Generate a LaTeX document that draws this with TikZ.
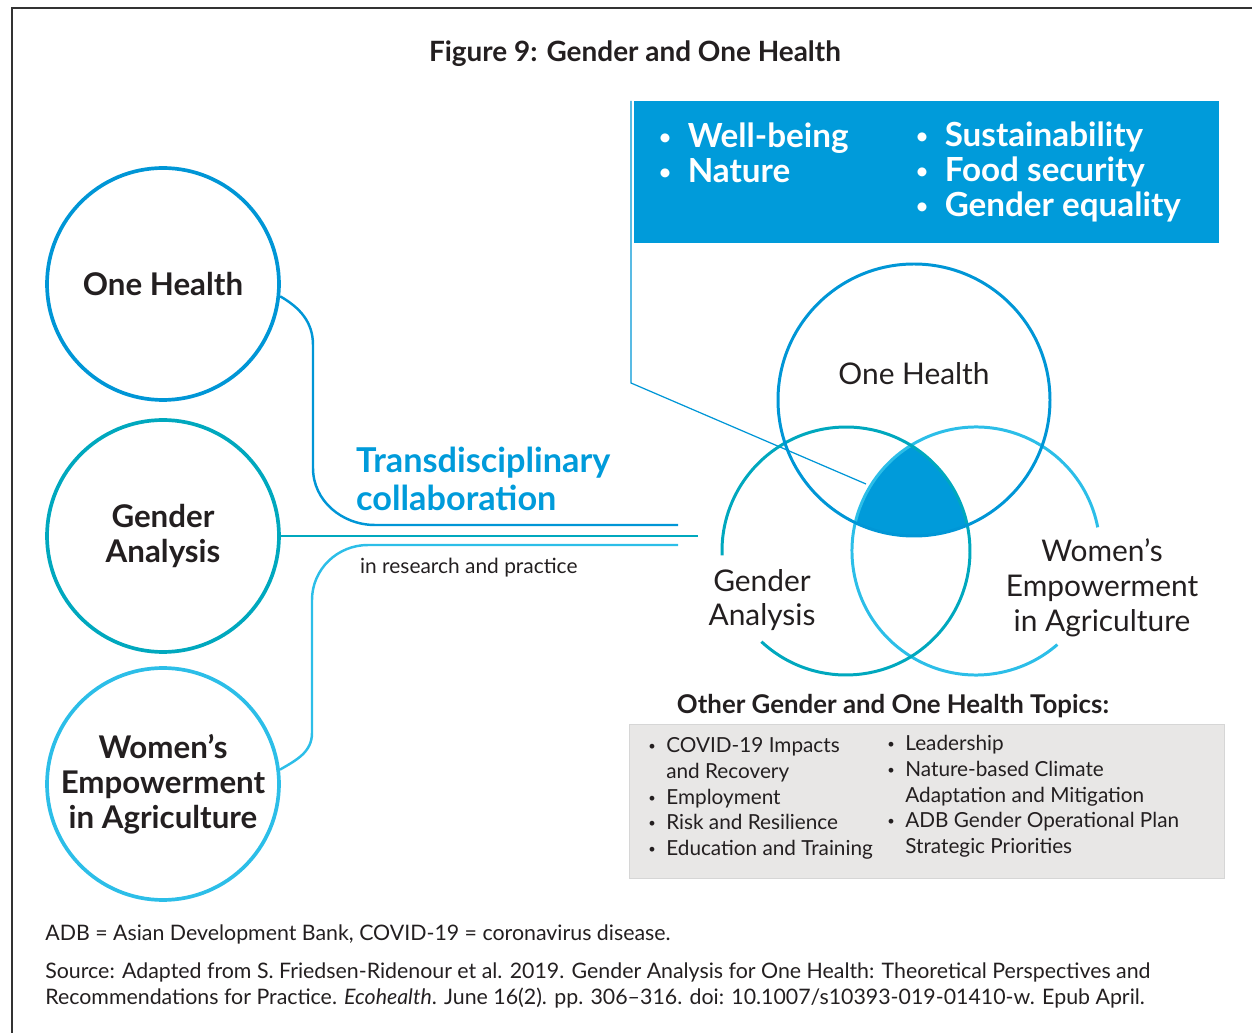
\documentclass[tikz,border=0pt]{standalone}
\usepackage{fontspec}
\setmainfont{Lato}
\usetikzlibrary{positioning}
\definecolor{ohBlue}{RGB}{0,150,214}
\definecolor{gaTeal}{RGB}{0,168,190}
\definecolor{weaCyan}{RGB}{44,190,232}
\definecolor{boxBlue}{RGB}{0,155,218}
\definecolor{boxGray}{RGB}{232,231,230}
\definecolor{edgeGray}{RGB}{214,214,214}
\definecolor{inkGray}{RGB}{35,31,32}
\newcommand{\dotMark}{\raisebox{.1em}{\scalebox{.62}{\textbullet}}}

\begin{document}
\begin{tikzpicture}[x=0.02cm, y=0.02cm, color=inkGray,
    bigRing/.style={circle, line width=2.1pt, minimum size=4.64cm, inner sep=0pt, align=center,
        font=\fontsize{17.8}{19.8}\selectfont\bfseries},
    vennRing/.style={line width=1.7pt},
    vennLabel/.style={align=center, font=\fontsize{17}{19.8}\selectfont},
    link/.style={line width=1.4pt}]
    \useasboundingbox (0,0) rectangle (1252,-1033);
    \draw[line width=0.9pt, black!80] (12,-1033) -- (12,-8) -- (1252,-8);

    \node[font=\fontsize{15.9}{18}\selectfont\bfseries] (title) at (635,-54) {Figure 9: Gender and One Health};

    % left circles
    \foreach \name/\yy/\col/\txt in {lOH/-284/ohBlue/{One Health}, lGA/-536/gaTeal/{Gender\\Analysis},
        lWEA/-784/weaCyan/{Women’s\\Empowerment\\in Agriculture}} {
        \node[bigRing, draw=\col] (\name) at (163,\yy) {\txt};
    }

    \coordinate (ohEnd) at (678,-525);
    \coordinate (gaEnd) at (698,-536);
    \coordinate (weaEnd) at (678,-545);
    \draw[link, ohBlue] (lOH.-6) to[out=-30,in=90] (313,-345) -- (313,-468)
        to[out=-90,in=180] (375,-525) -- (ohEnd);
    \draw[link, gaTeal] (lGA.east) -- (gaEnd);
    \draw[link, weaCyan] (lWEA.7) to[out=30,in=-90] (312,-733) -- (312,-600)
        to[out=90,in=180] (368,-545) -- (weaEnd);

    \node[anchor=west, align=left, text=boxBlue, font=\fontsize{19.5}{21.5}\selectfont\bfseries] (trans) at (350,-479)
        {Transdisciplinary\\collaboration};
    \node[anchor=west, font=\fontsize{11.9}{13}\selectfont] (practice) at (354,-568) {in research and practice};

    % blue box and pointer
    \node[fill=boxBlue, anchor=north west, minimum width=11.7cm, minimum height=2.84cm, inner sep=0pt] (topBox) at (634,-101) {};
    \node[anchor=west, align=left, text=white, font=\fontsize{18.9}{19.8}\selectfont\bfseries] (goalsA) at (653,-153)
        {\dotMark\hspace{.5em}Well-being\\\dotMark\hspace{.5em}Nature};
    \node[anchor=west, align=left, text=white, font=\fontsize{18.9}{19.8}\selectfont\bfseries] (goalsB) at (910,-172)
        {\dotMark\hspace{.5em}Sustainability\\\dotMark\hspace{.5em}Food security\\\dotMark\hspace{.5em}Gender equality};

    \coordinate (vOH) at (914,-400);
    \coordinate (vGA) at (846,-551);
    \coordinate (vWEA) at (976,-551);
    \coordinate (bend) at (631,-383);
    \coordinate (core) at (866,-484);
    \draw[line width=0.7pt, ohBlue] ([xshift=-0.06cm]topBox.north west) -- (bend) -- (core);

    % venn
    \begin{scope}
        \clip (vOH) circle[radius=136];
        \clip (vGA) circle[radius=124];
        \fill[boxBlue] (vWEA) circle[radius=124];
    \end{scope}
    \draw[vennRing, weaCyan] (vWEA) ++(11:124) arc[start angle=11, end angle=311, radius=124];
    \draw[vennRing, gaTeal] (vGA) ++(227:124) arc[start angle=227, end angle=542, radius=124];
    \draw[vennRing, ohBlue] (vOH) circle[radius=136];

    \node[vennLabel] (vOHtxt) at (914,-374) {One Health};
    \node[vennLabel] (vGAtxt) at (762,-600) {Gender\\Analysis};
    \node[vennLabel] (vWEAtxt) at (1102,-588) {Women’s\\Empowerment\\in Agriculture};

    % other topics
    \node[fill=boxGray, draw=edgeGray, line width=0.6pt, anchor=north west, minimum width=11.9cm, minimum height=3.08cm,
        inner sep=0pt] (topicBox) at (629,-724) {};
    \node[font=\fontsize{14.7}{16}\selectfont\bfseries] (topicHead) at (893,-706) {Other Gender and One Health Topics:};
    \node[anchor=west, inner sep=0pt, font=\fontsize{11.8}{14.7}\selectfont] (topicsL) at (648,-799)
        {\begin{tabular}{@{}l@{\hspace{6pt}}l@{}}
        \dotMark & COVID-19 Impacts\\ & and Recovery\\ \dotMark & Employment\\
        \dotMark & Risk and Resilience\\ \dotMark & Education and Training
        \end{tabular}};
    \node[anchor=west, inner sep=0pt, font=\fontsize{11.8}{14.7}\selectfont] (topicsR) at (887,-797)
        {\begin{tabular}{@{}l@{\hspace{6pt}}l@{}}
        \dotMark & Leadership\\ \dotMark & Nature-based Climate\\ & Adaptation and Mitigation\\
        \dotMark & ADB Gender Operational Plan\\ & Strategic Priorities
        \end{tabular}};

    % notes
    \node[anchor=west, inner sep=0pt, font=\fontsize{12.15}{15.3}\selectfont] (abbrev) at (45,-934)
        {ADB = Asian Development Bank, COVID-19 = coronavirus disease.};
    \node[anchor=west, inner sep=0pt, align=left, font=\fontsize{12.15}{15.3}\selectfont] (source) at (45,-985.5)
        {Source: Adapted from S. Friedsen-Ridenour et al. 2019. Gender Analysis for One Health: Theoretical Perspectives and\\
        Recommendations for Practice. \textit{Ecohealth}. June 16(2). pp. 306--316. doi: 10.1007/s10393-019-01410-w. Epub April.};
\end{tikzpicture}
\end{document}
